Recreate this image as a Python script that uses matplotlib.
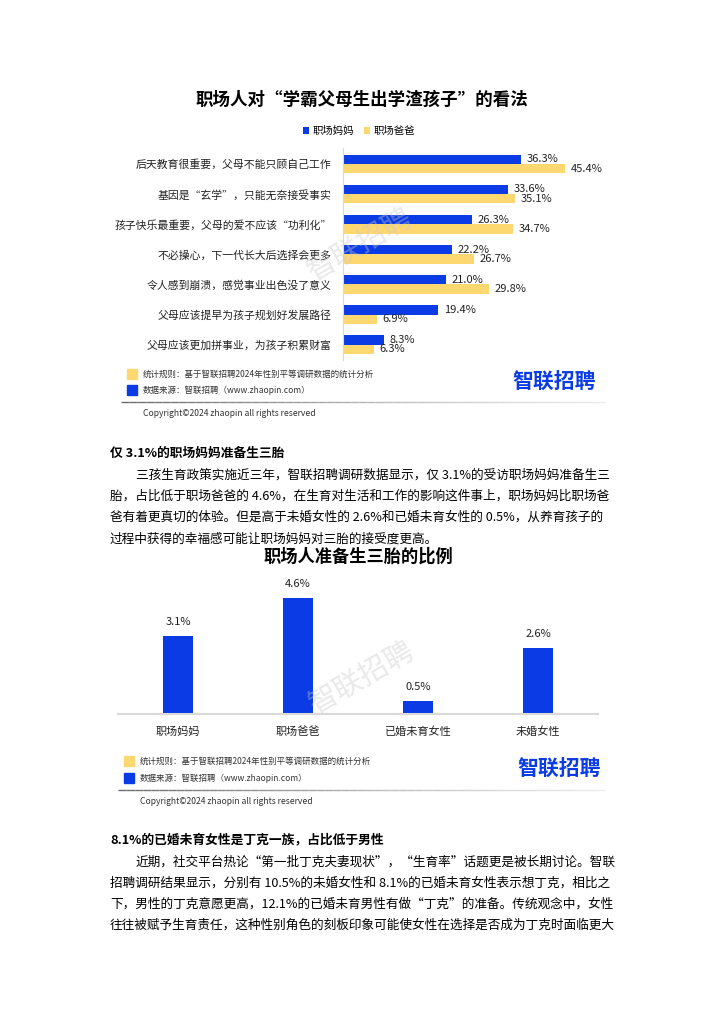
import matplotlib.pyplot as plt
import numpy as np
from matplotlib.patches import Rectangle
from matplotlib.collections import LineCollection

plt.rcParams['font.family'] = ['Noto Sans CJK SC', 'DejaVu Sans']

# ---- data ----
views = ['后天教育很重要，父母不能只顾自己工作', '基因是“玄学”，只能无奈接受事实',
         '孩子快乐最重要，父母的爱不应该“功利化”', '不必操心，下一代长大后选择会更多',
         '令人感到崩溃，感觉事业出色没了意义', '父母应该提早为孩子规划好发展路径',
         '父母应该更加拼事业，为孩子积累财富']
mom = [36.3, 33.6, 26.3, 22.2, 21.0, 19.4, 8.3]
dad = [45.4, 35.1, 34.7, 26.7, 29.8, 6.9, 6.3]
series_names = ['职场妈妈', '职场爸爸']

groups = ['职场妈妈', '职场爸爸', '已婚未育女性', '未婚女性']
third_child = [3.1, 4.6, 0.5, 2.6]

para1_head = '仅 3.1%的职场妈妈准备生三胎'
para1 = ['三孩生育政策实施近三年，智联招聘调研数据显示，仅 3.1%的受访职场妈妈准备生三',
         '胎，占比低于职场爸爸的 4.6%，在生育对生活和工作的影响这件事上，职场妈妈比职场爸',
         '爸有着更真切的体验。但是高于未婚女性的 2.6%和已婚未育女性的 0.5%，从养育孩子的',
         '过程中获得的幸福感可能让职场妈妈对三胎的接受度更高。']
para2_head = '8.1%的已婚未育女性是丁克一族，占比低于男性'
para2 = ['近期，社交平台热论“第一批丁克夫妻现状”，“生育率”话题更是被长期讨论。智联',
         '招聘调研结果显示，分别有 10.5%的未婚女性和 8.1%的已婚未育女性表示想丁克，相比之',
         '下，男性的丁克意愿更高，12.1%的已婚未育男性有做“丁克”的准备。传统观念中，女性',
         '往往被赋予生育责任，这种性别角色的刻板印象可能使女性在选择是否成为丁克时面临更大']

note_rule = '统计规则：基于智联招聘2024年性别平等调研数据的统计分析'
note_src = '数据来源：智联招聘（www.zhaopin.com）'
copyright_txt = 'Copyright©2024 zhaopin all rights reserved'

BLUE = '#0a3be4'
YELLOW = '#fdd870'
W, H = 724, 1024

fig = plt.figure(figsize=(W / 100, H / 100), dpi=100)


def fx(x):
    return x / W


def fy(y):
    return 1 - y / H


def rect(x0, y0, x1, y1):
    return [fx(x0), fy(y1), fx(x1) - fx(x0), fy(y0) - fy(y1)]


def footer(y_rule, y_src, y_line, y_copy, x_sq, logo_x):
    fig.patches.append(Rectangle((fx(x_sq), fy(y_rule + 5)), fx(10), 10 / H,
                                 transform=fig.transFigure, color=YELLOW))
    fig.patches.append(Rectangle((fx(x_sq), fy(y_src + 5)), fx(10), 10 / H,
                                 transform=fig.transFigure, color=BLUE))
    fig.text(fx(x_sq + 16), fy(y_rule), note_rule, fontsize=6.1, va='center', color='#333333')
    fig.text(fx(x_sq + 16), fy(y_src), note_src, fontsize=6.1, va='center', color='#333333')
    fig.text(fx(logo_x), fy((y_rule + y_src) / 2), '智联招聘', fontsize=15, fontweight='bold',
             color=BLUE, va='center', ha='left')
    xs = np.linspace(fx(x_sq - 6), fx(605), 60)
    segs = [[(xs[i], fy(y_line)), (xs[i + 1], fy(y_line))] for i in range(len(xs) - 1)]
    cols = plt.cm.Greys(np.linspace(0.65, 0.15, len(segs)))
    fig.add_artist(LineCollection(segs, colors=cols, linewidths=1, transform=fig.transFigure))
    fig.text(fx(x_sq + 16), fy(y_copy), copyright_txt, fontsize=6.2, va='center', color='#333333')


def watermark(x, y):
    fig.text(fx(x), fy(y), '智联招聘', fontsize=21, rotation=30, color='#c8c8c8', alpha=0.4,
             ha='center', va='center', zorder=10)


# ---- chart 1 ----
fig.text(fx(362), fy(100), '职场人对“学霸父母生出学渣孩子”的看法', fontsize=12.6,
         fontweight='bold', ha='center', va='center')
ax1 = fig.add_axes(rect(343, 148, 343 + 4.9 * 55, 360))
y = np.arange(len(views))
h = 0.31
b1 = ax1.barh(y - h / 2, mom, height=h, color=BLUE, label=series_names[0])
b2 = ax1.barh(y + h / 2, dad, height=h, color=YELLOW, label=series_names[1])
for bars, vals in ((b1, mom), (b2, dad)):
    for bar, v in zip(bars, vals):
        ax1.annotate(f'{v:.1f}%', (v, bar.get_y() + bar.get_height() / 2),
                     xytext=(4, 0), textcoords='offset points', va='center', ha='left',
                     fontsize=8, color='#222222')
ax1.set_xlim(0, 55)
ax1.set_ylim(6.51, -0.53)
ax1.set_yticks(y)
ax1.set_yticklabels(views, fontsize=7.8, color='#222222')
ax1.tick_params(axis='y', length=0, pad=8)
ax1.set_xticks([])
for s in ('top', 'right', 'bottom'):
    ax1.spines[s].set_visible(False)
ax1.spines['left'].set_color('#d9d9d9')
fig.legend(handles=[b1, b2], loc='center', bbox_to_anchor=(fx(359), fy(131)), ncol=2,
           frameon=False, fontsize=7.5, handlelength=0.6, handleheight=0.6,
           handletextpad=0.3, columnspacing=1.0)
watermark(360, 245)
footer(374, 390, 402, 413, 127, 512)

# ---- text section 1 ----
fig.text(fx(110), fy(453), para1_head, fontsize=9.2, fontweight='bold', va='center')
for i, line in enumerate(para1):
    fig.text(fx(136 if i == 0 else 110), fy(475 + 21.3 * i), line, fontsize=9.12, va='center')

# ---- chart 2 ----
fig.text(fx(358), fy(557), '职场人准备生三胎的比例', fontsize=12.4, fontweight='bold',
         ha='center', va='center')
ax2 = fig.add_axes(rect(118, 714 - 25.3 * 5.5, 598, 714))
x = np.arange(len(groups))
bars = ax2.bar(x, third_child, width=0.25, color=BLUE)
for bar, v in zip(bars, third_child):
    ax2.annotate(f'{v:.1f}%', (bar.get_x() + bar.get_width() / 2, v), xytext=(0, 10),
                 textcoords='offset points', ha='center', va='center', fontsize=8,
                 color='#222222')
ax2.set_xlim(-0.5, 3.5)
ax2.set_ylim(0, 5.5)
ax2.set_xticks(x)
ax2.set_xticklabels(groups, fontsize=8, color='#222222')
ax2.tick_params(axis='x', length=0, pad=9)
ax2.set_yticks([])
for s in ('top', 'right', 'left'):
    ax2.spines[s].set_visible(False)
ax2.spines['bottom'].set_color('#d9d9d9')
ax2.spines['bottom'].set_linewidth(1.5)
watermark(362, 678)
footer(761, 778, 790, 801, 124, 517)

# ---- text section 2 ----
fig.text(fx(110), fy(840), para2_head, fontsize=9.2, fontweight='bold', va='center')
for i, line in enumerate(para2):
    fig.text(fx(136 if i == 0 else 110), fy(862 + 21 * i), line, fontsize=9.12, va='center')

fig.savefig('out.png', dpi=100)
